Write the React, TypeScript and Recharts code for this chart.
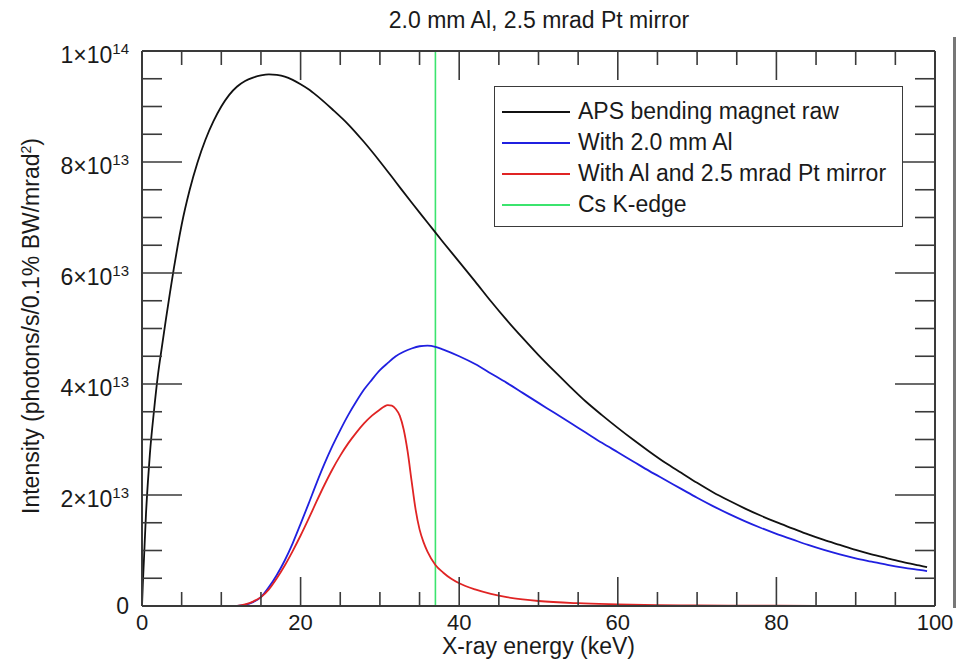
import React from 'react';
import { LineChart, Line, XAxis, YAxis, ReferenceLine, Legend } from 'recharts';

// X-ray energy (keV) and intensity (units of 1e13 photons/s/0.1% BW/mrad^2)
const rawEnergy = [0, 0.1, 0.25, 0.5, 0.75, 1, 1.5, 2, 2.5, 3, 3.5, 4, 4.5, 5, 6, 7, 8, 9, 10, 11, 12, 13, 14, 15, 16, 17, 18, 19, 20, 21, 22, 24, 26, 28, 30, 32, 34, 36, 38, 40, 42, 44, 46, 48, 50, 52, 54, 56, 58, 60, 62, 64, 66, 68, 70, 72, 74, 76, 78, 80, 82, 84, 86, 88, 90, 92, 94, 96, 98, 99];
const rawIntensity = [0, 0.38, 0.85, 1.65, 2.25, 2.75, 3.5, 4.15, 4.66, 5.15, 5.62, 6.07, 6.49, 6.87, 7.49, 7.99, 8.4, 8.73, 9.0, 9.21, 9.36, 9.46, 9.52, 9.56, 9.58, 9.57, 9.54, 9.48, 9.4, 9.31, 9.2, 8.95, 8.68, 8.36, 8.01, 7.64, 7.27, 6.91, 6.55, 6.2, 5.85, 5.49, 5.15, 4.83, 4.52, 4.23, 3.95, 3.68, 3.44, 3.21, 2.99, 2.78, 2.58, 2.4, 2.22, 2.05, 1.9, 1.76, 1.63, 1.51, 1.4, 1.29, 1.19, 1.1, 1.01, 0.93, 0.86, 0.79, 0.73, 0.7];

const alEnergy = [12, 13, 14, 15, 16, 17, 18, 19, 20, 21, 22, 23, 24, 25, 26, 27, 28, 29, 30, 31, 32, 33, 34, 35, 36, 37, 38, 40, 42, 44, 46, 48, 50, 52, 54, 56, 58, 60, 62, 64, 66, 68, 70, 72, 74, 76, 78, 80, 82, 84, 86, 88, 90, 92, 94, 96, 98, 99];
const alIntensity = [0, 0.02, 0.07, 0.16, 0.34, 0.56, 0.82, 1.13, 1.48, 1.84, 2.21, 2.56, 2.88, 3.17, 3.44, 3.68, 3.9, 4.08, 4.25, 4.38, 4.5, 4.58, 4.64, 4.68, 4.69, 4.67, 4.62, 4.5, 4.36, 4.19, 4.02, 3.84, 3.66, 3.48, 3.3, 3.12, 2.94, 2.77, 2.6, 2.43, 2.27, 2.11, 1.95, 1.8, 1.66, 1.53, 1.41, 1.3, 1.2, 1.1, 1.01, 0.93, 0.86, 0.8, 0.74, 0.69, 0.65, 0.63];

const ptEnergy = [12, 13, 14, 15, 16, 17, 18, 19, 20, 21, 22, 23, 24, 25, 26, 27, 28, 29, 30, 30.5, 31, 31.5, 32, 32.5, 33, 33.5, 34, 34.5, 35, 35.5, 36, 37, 38, 39, 40, 42, 44, 46, 48, 50, 55, 60, 65, 70, 80, 90, 99];
const ptIntensity = [0, 0.03, 0.08, 0.16, 0.3, 0.5, 0.73, 0.99, 1.27, 1.57, 1.88, 2.18, 2.46, 2.71, 2.93, 3.12, 3.29, 3.43, 3.54, 3.59, 3.62, 3.61, 3.55, 3.43, 3.18, 2.78, 2.25, 1.74, 1.38, 1.15, 0.98, 0.74, 0.6, 0.49, 0.41, 0.3, 0.22, 0.16, 0.12, 0.09, 0.05, 0.03, 0.015, 0.01, 0.005, 0.003, 0.002];

const csKEdge = 37;

const xTicks = [0, 5, 10, 15, 20, 25, 30, 35, 40, 45, 50, 55, 60, 65, 70, 75, 80, 85, 90, 95, 100];
const yTicks = [0, 0.5, 1, 1.5, 2, 2.5, 3, 3.5, 4, 4.5, 5, 5.5, 6, 6.5, 7, 7.5, 8, 8.5, 9, 9.5, 10];
const yMajor = [0, 2, 4, 6, 8, 10];
const yMantissa = ['0', '2\u00d710', '4\u00d710', '6\u00d710', '8\u00d710', '1\u00d710'];
const yExponent = ['', '13', '13', '13', '13', '14'];

const seriesNames = ['APS bending magnet raw', 'With 2.0 mm Al', 'With Al and 2.5 mrad Pt mirror', 'Cs K-edge'];
const seriesColors = ['#111111', '#2020e0', '#e02424', '#3be46e'];

const toPoints = (e: number[], v: number[]) => e.map((x, i) => ({ e: x, v: v[i] }));
const rawData = toPoints(rawEnergy, rawIntensity);
const alData = toPoints(alEnergy, alIntensity);
const ptData = toPoints(ptEnergy, ptIntensity);

const FONT = '"Liberation Sans", Arial, Helvetica, sans-serif';
const AXIS = '#3a3a3a';
const TEXT = '#1a1a1a';

const isMajorX = (v: number) => v % 20 === 0;

const BottomTick = ({ x, y, payload }: any) => {
  const v = payload.value;
  const major = isMajorX(v);
  return (
    <g>
      <line x1={x} x2={x} y1={y} y2={y - (major ? 29 : 14)} stroke={AXIS} strokeWidth={1.6} />
      {major && (
        <text x={x} y={y + 24} textAnchor="middle" fontSize={22} fontFamily={FONT} fill={TEXT}>{v}</text>
      )}
    </g>
  );
};

const TopTick = ({ x, y, payload }: any) => {
  const major = isMajorX(payload.value);
  return <line x1={x} x2={x} y1={y} y2={y + (major ? 29 : 14)} stroke={AXIS} strokeWidth={1.6} />;
};

const LeftTick = ({ x, y, payload }: any) => {
  const idx = yMajor.indexOf(payload.value);
  const major = idx >= 0;
  return (
    <g>
      <line x1={x} x2={x + (major ? 40 : 20)} y1={y} y2={y} stroke={AXIS} strokeWidth={1.6} />
      {major && (
        <text x={x - 13} y={idx === 0 ? y + 8 : y + 12} textAnchor="end" fontSize={23} fontFamily={FONT} fill={TEXT}>
          {yMantissa[idx]}
          {yExponent[idx] && <tspan dy={-9} fontSize={15}>{yExponent[idx]}</tspan>}
        </text>
      )}
    </g>
  );
};

const RightTick = ({ x, y, payload }: any) => {
  const major = yMajor.indexOf(payload.value) >= 0;
  return <line x1={x} x2={x - (major ? 40 : 20)} y1={y} y2={y} stroke={AXIS} strokeWidth={1.6} />;
};

const YLabel = () => (
  <text x={39} y={326} transform="rotate(-90, 39, 326)" textAnchor="middle" fontSize={23} fontFamily={FONT} fill={TEXT}>
    Intensity (photons/s/0.1% BW/mrad
    <tspan dy={-8} fontSize={14}>2</tspan>
    <tspan dy={8}>)</tspan>
  </text>
);

const LegendBox = () => (
  <div style={{ width: 409, height: 141, boxSizing: 'border-box', border: `1.5px solid ${AXIS}`, background: '#fff', padding: '9px 0 0 7px', fontFamily: FONT }}>
    {seriesNames.map((name, i) => (
      <div key={name} style={{ display: 'flex', alignItems: 'center', height: 31 }}>
        <svg width={68} height={4} style={{ display: 'block' }}>
          <line x1={0} x2={68} y1={2} y2={2} stroke={seriesColors[i]} strokeWidth={2} />
        </svg>
        <span style={{ marginLeft: 8, fontSize: 23, color: TEXT, lineHeight: '31px', whiteSpace: 'nowrap' }}>{name}</span>
      </div>
    ))}
  </div>
);

export default function App() {
  return (
    <div style={{ position: 'absolute', left: 0, top: 0, width: 956, height: 661, background: '#fff', fontFamily: FONT }}>
      <div style={{ position: 'absolute', left: 239, top: 9, width: 600, textAlign: 'center', fontSize: 23, lineHeight: '23px', color: TEXT }}>
        2.0 mm Al, 2.5 mrad Pt mirror
      </div>
      <LineChart width={956} height={661} margin={{ top: 50, right: 20, bottom: 0, left: 0 }}>
        <XAxis
          xAxisId="b" type="number" dataKey="e" domain={[0, 100]} ticks={xTicks} interval={0}
          allowDataOverflow height={55} tickSize={0} tickMargin={0} tickLine={false}
          axisLine={{ stroke: AXIS, strokeWidth: 2 }} tick={<BottomTick />}
          label={{ value: 'X-ray energy (keV)', position: 'insideBottom', offset: 7, fontSize: 23, fontFamily: FONT, fill: TEXT }}
        />
        <XAxis
          xAxisId="t" orientation="top" type="number" dataKey="e" domain={[0, 100]} ticks={xTicks} interval={0}
          allowDataOverflow height={1} tickSize={0} tickMargin={0} tickLine={false}
          axisLine={{ stroke: AXIS, strokeWidth: 2 }} tick={<TopTick />}
        />
        <YAxis
          yAxisId="l" type="number" domain={[0, 10]} ticks={yTicks} interval={0}
          allowDataOverflow width={142} tickSize={0} tickMargin={0} tickLine={false}
          axisLine={{ stroke: AXIS, strokeWidth: 2 }} tick={<LeftTick />} label={<YLabel />}
        />
        <YAxis
          yAxisId="r" orientation="right" type="number" domain={[0, 10]} ticks={yTicks} interval={0}
          allowDataOverflow width={1} tickSize={0} tickMargin={0} tickLine={false}
          axisLine={{ stroke: AXIS, strokeWidth: 2 }} tick={<RightTick />}
        />
        <ReferenceLine xAxisId="b" yAxisId="l" x={csKEdge} stroke={seriesColors[3]} strokeWidth={1.6} />
        <Line xAxisId="t" yAxisId="r" data={rawData} dataKey="v" stroke="none" dot={false} activeDot={false} legendType="none" isAnimationActive={false} />
        <Line xAxisId="b" yAxisId="l" data={rawData} dataKey="v" type="monotone" stroke={seriesColors[0]} strokeWidth={1.8} dot={false} isAnimationActive={false} />
        <Line xAxisId="b" yAxisId="l" data={alData} dataKey="v" type="monotone" stroke={seriesColors[1]} strokeWidth={1.8} dot={false} isAnimationActive={false} />
        <Line xAxisId="b" yAxisId="l" data={ptData} dataKey="v" type="monotone" stroke={seriesColors[2]} strokeWidth={1.8} dot={false} isAnimationActive={false} />
        <Legend
          layout="vertical" align="center" verticalAlign="middle" content={<LegendBox />}
          wrapperStyle={{ position: 'absolute', left: 494, top: 86, width: 409, height: 141 }}
        />
      </LineChart>
      <div style={{ position: 'absolute', left: 953, top: 37, width: 3, height: 571, background: '#777' }} />
    </div>
  );
}
